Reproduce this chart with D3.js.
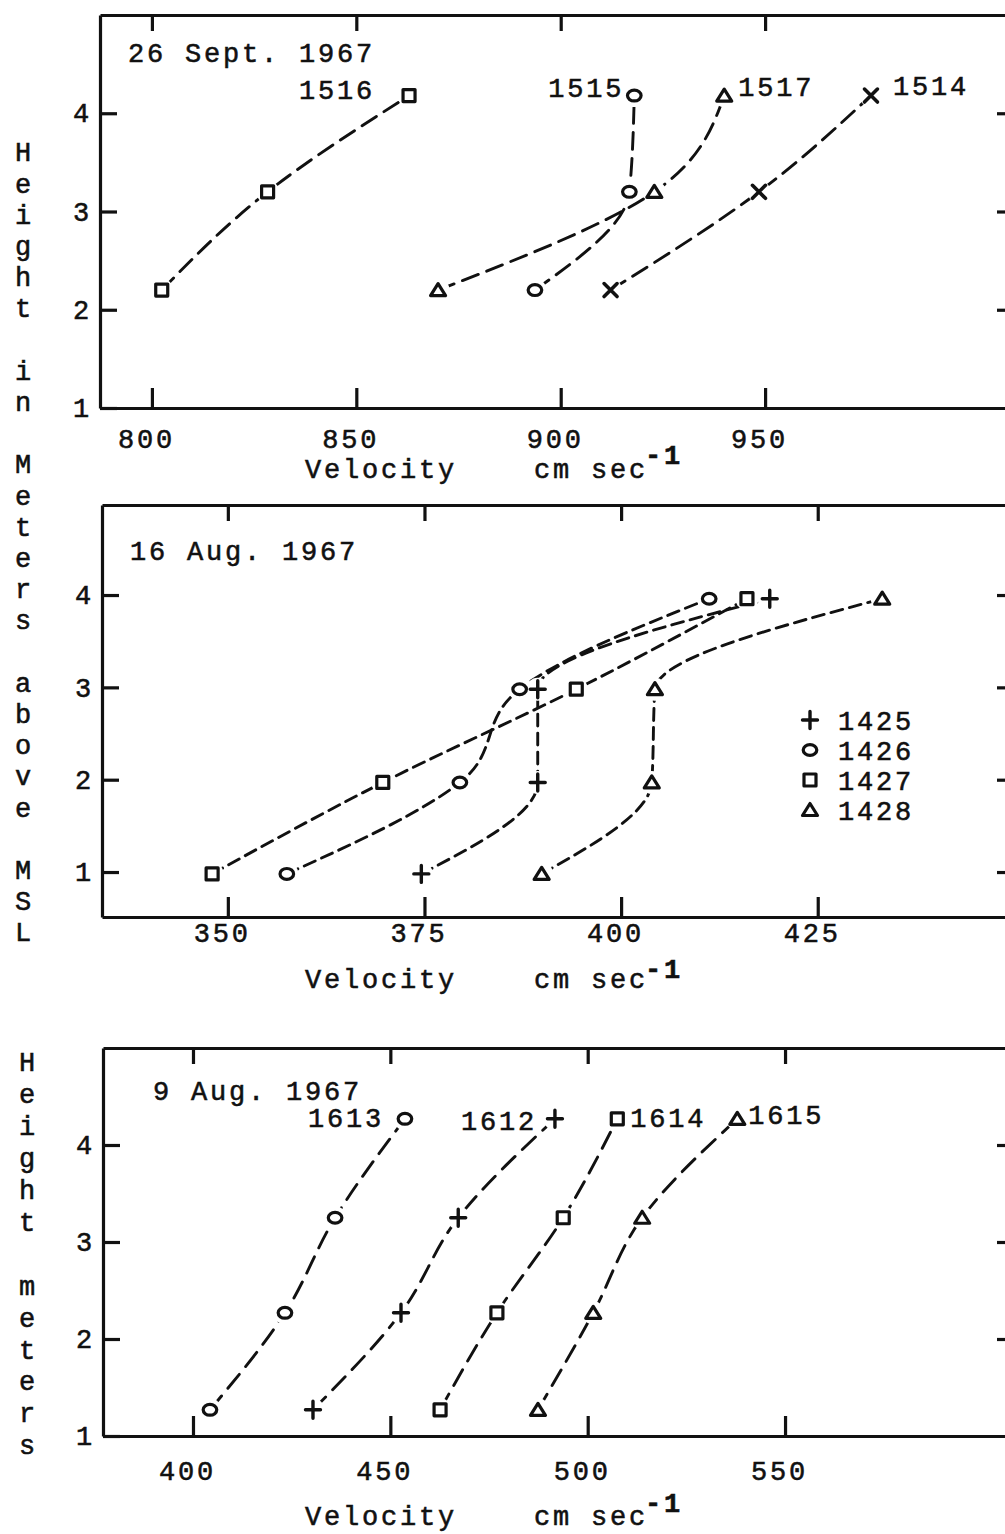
<!DOCTYPE html>
<html>
<head>
<meta charset="utf-8">
<script src="https://cdn.jsdelivr.net/npm/d3@7"></script>
<style>
  body { margin: 0; background: #fff; }
  svg { display: block; background: #fff; }
  text { font-family: "Liberation Mono", "DejaVu Sans Mono", monospace; fill: #111; stroke: #111; stroke-width: 0.55px; }
</style>
</head>
<body>
<svg id="chart" width="1005" height="1534"></svg>
<script>
// ---------- data: 26 Sept. 1967 ----------
const sepDate = "26 Sept. 1967";
const sepHeights = [2.2, 3.2, 4.18];
const sepRuns = ["1514", "1515", "1516", "1517"];
const sepVel1514 = [912.2, 948.5, 975.9];
const sepVel1515 = [893.7, 916.8, 918.0];
const sepVel1516 = [802.4, 828.3, 862.9];
const sepVel1517 = [870.0, 922.9, 940.0];
const sepXTicks = [800, 850, 900, 950];

// ---------- data: 16 Aug. 1967 ----------
const aug16Date = "16 Aug. 1967";
const aug16Heights = [0.98, 1.97, 2.98, 3.96];
const aug16Runs = ["1425", "1426", "1427", "1428"];
const aug16Vel1425 = [374.6, 389.4, 389.4, 418.9];
const aug16Vel1426 = [357.5, 379.5, 387.1, 411.2];
const aug16Vel1427 = [348.0, 369.7, 394.3, 416.0];
const aug16Vel1428 = [389.9, 403.9, 404.3, 433.2];
const aug16XTicks = [350, 375, 400, 425];

// ---------- data: 9 Aug. 1967 ----------
const aug9Date = "9 Aug. 1967";
const aug9Heights = [1.27, 2.27, 3.25, 4.27];
const aug9Runs = ["1612", "1613", "1614", "1615"];
const aug9Vel1612 = [430.4, 452.7, 467.2, 491.7];
const aug9Vel1613 = [404.3, 423.3, 436.0, 453.7];
const aug9Vel1614 = [462.6, 477.0, 493.8, 507.5];
const aug9Vel1615 = [487.4, 501.4, 513.8, 537.9];
const aug9XTicks = [400, 450, 500, 550];

const heightTicks = [1, 2, 3, 4];
const xTitle = "Velocity";
const unitText = "cm sec";
const unitSup = "-1";
const sideTitleUpper = ["Height", "in", "Meters", "above", "MSL"];
const sideTitleLower = ["Height", "meters"];

// ---------- layout ----------
const svg = d3.select("#chart");
const FONT = 27, SPACING = 2.8;

const panels = [
  {
    date: sepDate, heights: sepHeights, xTicks: sepXTicks, leftTicks: heightTicks, rightTicks: [2, 3, 4],
    left: 100, right: 1012, top: 15, bottom: 408,
    xDomain: [787.3, 1010.4], yDomain: [1, 5],
    labelPad: 21, dateAt: [128, 62], titleY: 478, supDy: -14, dash: "17,9",
    series: [
      { run: sepRuns[0], vel: sepVel1514, mark: "cross",    label: { anchor: "start", dx: 22,  dy: -1 } },
      { run: sepRuns[1], vel: sepVel1515, mark: "circle",   label: { anchor: "end",   dx: -10, dy: 1 } },
      { run: sepRuns[2], vel: sepVel1516, mark: "square",   label: { anchor: "end",   dx: -34, dy: 3 } },
      { run: sepRuns[3], vel: sepVel1517, mark: "triangle", label: { anchor: "start", dx: 14,  dy: 0 } }
    ]
  },
  {
    date: aug16Date, heights: aug16Heights, xTicks: aug16XTicks, leftTicks: heightTicks, rightTicks: [1, 2, 3, 4],
    left: 102, right: 1012, top: 505, bottom: 917,
    xDomain: [334.0, 449.7], yDomain: [0.513, 4.975],
    labelPad: 6, dateAt: [130, 560], titleY: 988, supDy: -10, dash: "12,7",
    legend: { x: 810, textX: 838, y: 730, step: 30 },
    series: [
      { run: aug16Runs[0], vel: aug16Vel1425, mark: "plus" },
      { run: aug16Runs[1], vel: aug16Vel1426, mark: "circle" },
      { run: aug16Runs[2], vel: aug16Vel1427, mark: "square" },
      { run: aug16Runs[3], vel: aug16Vel1428, mark: "triangle" }
    ]
  },
  {
    date: aug9Date, heights: aug9Heights, xTicks: aug9XTicks, leftTicks: heightTicks, rightTicks: [2, 3, 4],
    left: 103, right: 1012, top: 1048, bottom: 1436,
    xDomain: [377.2, 607.5], yDomain: [1, 5],
    labelPad: 25, dateAt: [153, 1100], titleY: 1525, supDy: -13, dash: "18,10",
    series: [
      { run: aug9Runs[0], vel: aug9Vel1612, mark: "plus",     label: { anchor: "end",   dx: -18, dy: 11 } },
      { run: aug9Runs[1], vel: aug9Vel1613, mark: "circle",   label: { anchor: "end",   dx: -21, dy: 8 } },
      { run: aug9Runs[2], vel: aug9Vel1614, mark: "square",   label: { anchor: "start", dx: 13,  dy: 8 } },
      { run: aug9Runs[3], vel: aug9Vel1615, mark: "triangle", label: { anchor: "start", dx: 11,  dy: 5 } }
    ]
  }
];

// typewriter-style marker glyphs
function drawMarker(g, type, x, y) {
  const m = g.append("g").attr("transform", `translate(${x},${y})`)
    .attr("fill", "#fff").attr("stroke", "#111").attr("stroke-width", 3.2)
    .attr("stroke-linejoin", "round").attr("stroke-linecap", "round");
  if (type === "circle") {
    m.append("ellipse").attr("rx", 6.8).attr("ry", 5.4);
  } else if (type === "square") {
    m.append("rect").attr("x", -6).attr("y", -6).attr("width", 12).attr("height", 12);
  } else if (type === "triangle") {
    m.append("path").attr("d", "M0,-6.5 L7.5,5.5 L-7.5,5.5 Z");
  } else if (type === "cross") {
    m.append("path").attr("d", "M-6.5,-6.5 L6.5,6.5 M6.5,-6.5 L-6.5,6.5").attr("stroke-width", 3.6);
  } else if (type === "plus") {
    m.append("path").attr("d", "M-7.5,0 L7.5,0 M0,-8.5 L0,8.5").attr("stroke-width", 3.4);
  }
}

function typeText(sel) {
  return sel.attr("font-size", FONT).attr("letter-spacing", SPACING);
}

panels.forEach(p => {
  const x = d3.scaleLinear().domain(p.xDomain).range([p.left, p.right]);
  const y = d3.scaleLinear().domain(p.yDomain).range([p.bottom, p.top]);
  const g = svg.append("g");

  // axes: labelled bottom/left, inward ticks on all four sides
  const styleAxis = a => {
    a.selectAll("path.domain").attr("stroke", "#111").attr("stroke-width", 3.2);
    a.selectAll(".tick line").attr("stroke", "#111").attr("stroke-width", 3.2);
    a.attr("font-family", null).attr("font-size", null);
    typeText(a.selectAll("text")).attr("fill", "#111");
  };
  g.append("g").attr("transform", `translate(0,${p.bottom})`)
    .call(d3.axisBottom(x).tickValues(p.xTicks).tickSize(-20).tickSizeOuter(0)
      .tickPadding(p.labelPad).tickFormat(d3.format("d")))
    .call(styleAxis)
    .selectAll("text").attr("dx", -6);
  g.append("g").attr("transform", `translate(0,${p.top})`)
    .call(d3.axisTop(x).tickValues(p.xTicks).tickSize(-16).tickSizeOuter(0).tickFormat(""))
    .call(styleAxis);
  g.append("g").attr("transform", `translate(${p.left},0)`)
    .call(d3.axisLeft(y).tickValues(p.leftTicks).tickSize(-17).tickSizeOuter(0)
      .tickPadding(8).tickFormat(d3.format("d")))
    .call(styleAxis);
  g.append("g").attr("transform", `translate(${p.right},0)`)
    .call(d3.axisRight(y).tickValues(p.rightTicks).tickSize(-15).tickSizeOuter(0).tickFormat(""))
    .call(styleAxis)
    .select("path.domain").remove();

  // date heading
  typeText(g.append("text")).attr("x", p.dateAt[0]).attr("y", p.dateAt[1]).text(p.date);

  // axis title with superscript unit
  typeText(g.append("text")).attr("x", 305).attr("y", p.titleY).text(xTitle);
  const u = typeText(g.append("text")).attr("x", 534).attr("y", p.titleY);
  u.append("tspan").text(unitText);
  u.append("tspan").attr("dy", p.supDy).attr("dx", -3).attr("font-weight", "bold").text(unitSup);

  // dashed smooth profiles
  const line = d3.line().x(d => x(d[0])).y(d => y(d[1])).curve(d3.curveMonotoneY);
  p.series.forEach(s => {
    const pts = s.vel.map((v, i) => [v, p.heights[i]]);
    g.append("path").attr("d", line(pts)).attr("fill", "none")
      .attr("stroke", "#111").attr("stroke-width", 2.9)
      .attr("stroke-dasharray", p.dash).attr("stroke-linecap", "round");
  });
  // clear space round each plotted point, then the point glyphs
  p.series.forEach(s => {
    s.vel.forEach((v, i) => {
      g.append("circle").attr("cx", x(v)).attr("cy", y(p.heights[i])).attr("r", 11.5).attr("fill", "#fff");
    });
  });
  p.series.forEach(s => {
    s.vel.forEach((v, i) => drawMarker(g, s.mark, x(v), y(p.heights[i])));
    if (s.label) {
      const n = s.vel.length - 1;
      typeText(g.append("text"))
        .attr("x", x(s.vel[n]) + s.label.dx)
        .attr("y", y(p.heights[n]) + s.label.dy)
        .attr("text-anchor", s.label.anchor)
        .text(s.run);
    }
  });

  // run key
  if (p.legend) {
    p.series.forEach((s, i) => {
      const ly = p.legend.y + i * p.legend.step;
      drawMarker(g, s.mark, p.legend.x, ly - 10);
      typeText(g.append("text")).attr("x", p.legend.textX).attr("y", ly).text(s.run);
    });
  }
});

// vertical typewritten side titles
function sideColumn(words, cx, startY, step) {
  const chars = [];
  words.forEach((w, i) => {
    if (i > 0) chars.push(" ");
    w.split("").forEach(c => chars.push(c));
  });
  svg.append("g").selectAll("text").data(chars).join("text")
    .attr("x", cx).attr("y", (d, i) => startY + i * step)
    .attr("dy", "0.35em").attr("text-anchor", "middle")
    .attr("font-size", FONT)
    .text(d => d);
}
sideColumn(sideTitleUpper, 23, 152, 31.2);
sideColumn(sideTitleLower, 27, 1062, 31.9);
</script>
</body>
</html>
